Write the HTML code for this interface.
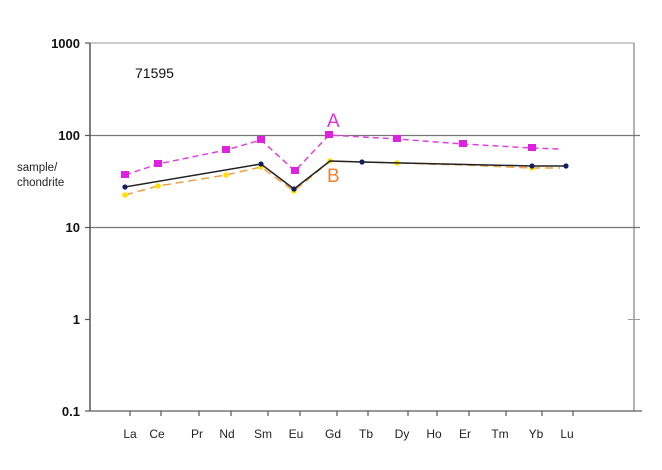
<!DOCTYPE html>
<html><head><meta charset="utf-8"><style>body{margin:0;background:#fff}</style></head><body>
<svg width="662" height="465" xmlns="http://www.w3.org/2000/svg" font-family="Liberation Sans, sans-serif">
<rect width="662" height="465" fill="#fff"/>
<line x1="90" y1="43" x2="634" y2="43" stroke="#bbb" stroke-width="1.5"/>
<line x1="634" y1="43" x2="634" y2="411" stroke="#999" stroke-width="1.5"/>
<line x1="90" y1="135.5" x2="640" y2="135.5" stroke="#777" stroke-width="1.2"/>
<line x1="90" y1="227.5" x2="640" y2="227.5" stroke="#777" stroke-width="1.2"/>
<line x1="628" y1="319.5" x2="640" y2="319.5" stroke="#999" stroke-width="1"/>
<line x1="90" y1="43" x2="90" y2="411" stroke="#555" stroke-width="1.5"/>
<line x1="90" y1="411" x2="642" y2="411" stroke="#777" stroke-width="1.5"/>
<g stroke="#555" stroke-width="1.2">
<line x1="85" y1="43" x2="90" y2="43"/><line x1="85" y1="135.5" x2="90" y2="135.5"/><line x1="85" y1="227.5" x2="90" y2="227.5"/><line x1="85" y1="319.5" x2="90" y2="319.5"/><line x1="85" y1="411" x2="90" y2="411"/>
<line x1="130" y1="411" x2="130" y2="416"/><line x1="161" y1="411" x2="161" y2="416"/><line x1="199" y1="411" x2="199" y2="416"/><line x1="231" y1="411" x2="231" y2="416"/><line x1="268" y1="411" x2="268" y2="416"/><line x1="300" y1="411" x2="300" y2="416"/><line x1="337" y1="411" x2="337" y2="416"/><line x1="368" y1="411" x2="368" y2="416"/><line x1="408" y1="411" x2="408" y2="416"/><line x1="437" y1="411" x2="437" y2="416"/><line x1="469" y1="411" x2="469" y2="416"/><line x1="506" y1="411" x2="506" y2="416"/><line x1="542" y1="411" x2="542" y2="416"/><line x1="573" y1="411" x2="573" y2="416"/>
</g>
<g font-size="13" font-weight="bold" text-anchor="end" fill="#111">
<text x="80" y="48">1000</text><text x="80" y="140">100</text><text x="80" y="232">10</text><text x="80" y="324">1</text><text x="80" y="416">0.1</text>
</g>
<text x="17" y="171" font-size="11.5" fill="#222">sample/</text>
<text x="17" y="186" font-size="11.5" fill="#222">chondrite</text>
<text x="135" y="78" font-size="14" fill="#111">71595</text>
<g font-size="12" fill="#222" text-anchor="middle">
<text x="130" y="438">La</text><text x="157" y="438">Ce</text><text x="197" y="438">Pr</text><text x="227" y="438">Nd</text><text x="263" y="438">Sm</text><text x="296" y="438">Eu</text><text x="333" y="438">Gd</text><text x="366" y="438">Tb</text><text x="402" y="438">Dy</text><text x="434" y="438">Ho</text><text x="465" y="438">Er</text><text x="500" y="438">Tm</text><text x="536" y="438">Yb</text><text x="567" y="438">Lu</text>
</g>
<polyline points="125,175 158,164 226,150 261,140 295,171 329,135 397,139 463,144 532,148 560,149" fill="none" stroke="#e040e0" stroke-width="1.5" stroke-dasharray="6,4"/>
<g fill="#e020e0"><rect x="121" y="171" width="8" height="7"/><rect x="154" y="160" width="8" height="7"/><rect x="222" y="146" width="8" height="7"/><rect x="257" y="136" width="8" height="7"/><rect x="291" y="167" width="8" height="7"/><rect x="325" y="131" width="8" height="7"/><rect x="393" y="135" width="8" height="7"/><rect x="459" y="140" width="8" height="7"/><rect x="528" y="144" width="8" height="7"/></g>
<polyline points="125,195 158,186 226,175 261,167 294,191 330,161 397,163 463,165 532,168 560,168" fill="none" stroke="#f0a040" stroke-width="1.5" stroke-dasharray="8,5"/>
<g fill="#ffe000"><circle cx="125" cy="195" r="2.8"/><circle cx="158" cy="186" r="2.8"/><circle cx="226" cy="175" r="2.8"/><circle cx="261" cy="167" r="2.8"/><circle cx="294" cy="191" r="2.8"/><circle cx="330" cy="161" r="2.8"/><circle cx="397" cy="163" r="2.8"/><circle cx="532" cy="168" r="2.8"/></g>
<polyline points="125,187 261,164 294,189 330,161 362,162 532,166 566,166" fill="none" stroke="#222" stroke-width="1.5"/>
<g fill="#102060"><circle cx="125" cy="187" r="2.6"/><circle cx="261" cy="164" r="2.6"/><circle cx="294" cy="189" r="2.6"/><circle cx="362" cy="162" r="2.6"/><circle cx="532" cy="166" r="2.6"/><circle cx="566" cy="166" r="2.6"/></g>
<text x="327" y="127" font-size="19" fill="#e030e0">A</text>
<text x="327" y="182" font-size="19" fill="#f08030">B</text>
</svg>
</body></html>
